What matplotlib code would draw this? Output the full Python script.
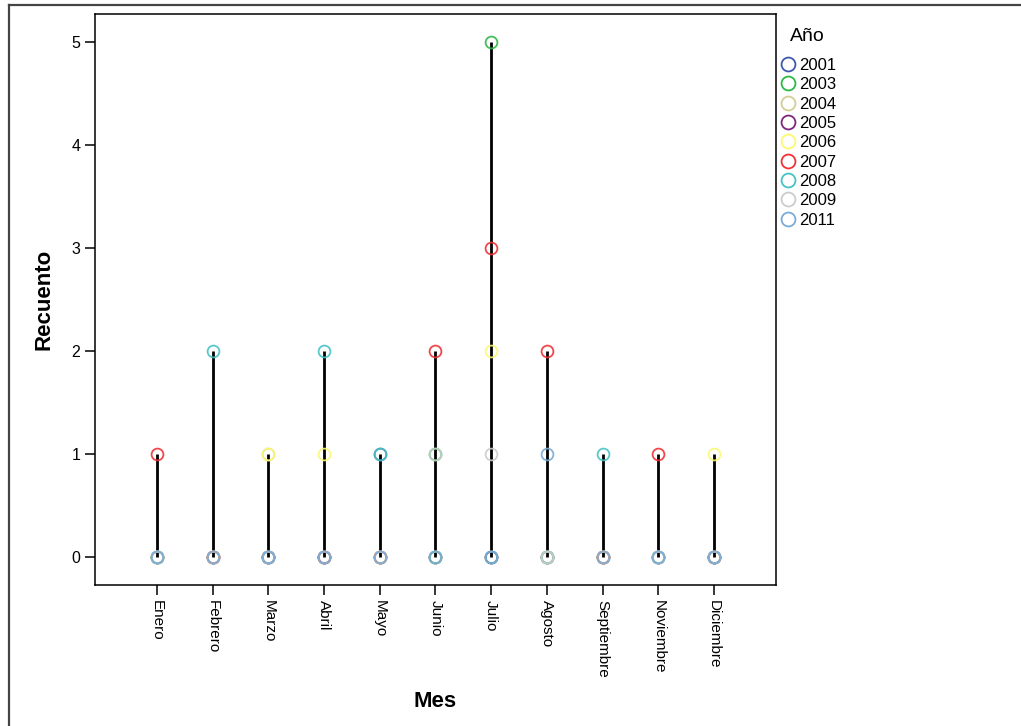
import numpy as np
import matplotlib.pyplot as plt
from matplotlib.lines import Line2D

plt.rcParams['font.family'] = ['Liberation Sans', 'DejaVu Sans']

# Datos: recuento por mes y año
meses = ["Enero", "Febrero", "Marzo", "Abril", "Mayo", "Junio", "Julio",
         "Agosto", "Septiembre", "Noviembre", "Diciembre"]
anios = ["2001", "2003", "2004", "2005", "2006", "2007", "2008", "2009", "2011"]

c2001 = [0, 0, 0, 0, 1, 0, 0, 0, 0, 0, 0]
c2003 = [0, 0, 0, 0, 0, 1, 5, 0, 0, 0, 0]
c2004 = [0, 0, 1, 0, 0, 0, 0, 0, 0, 0, 0]
c2005 = [0, 0, 0, 0, 0, 0, 0, 0, 0, 0, 0]
c2006 = [0, 0, 1, 1, 0, 0, 2, 0, 0, 0, 1]
c2007 = [1, 0, 0, 0, 0, 2, 3, 2, 0, 1, 0]
c2008 = [0, 2, 0, 2, 1, 0, 0, 0, 1, 0, 0]
c2009 = [0, 0, 0, 0, 0, 1, 1, 0, 0, 0, 0]
c2011 = [0, 0, 0, 0, 0, 0, 0, 1, 0, 0, 0]

colores = ["#3E58AC", "#2EB848", "#D3CE97", "#7C287D", "#FBF873",
           "#EF3338", "#48C2C5", "#CCCCCC", "#7AAAD5"]

recuentos = np.array([c2001, c2003, c2004, c2005, c2006, c2007, c2008, c2009, c2011])
x = np.arange(len(meses))

fig = plt.figure(figsize=(10.21, 7.26), dpi=100)
ax = fig.add_axes([0.093, 0.194, 0.667, 0.787])

# lineas de caida (min a max)
ax.vlines(x, recuentos.min(axis=0), recuentos.max(axis=0), color="black", lw=2, zorder=1)

for anio, col, vals in zip(anios, colores, recuentos):
    ax.plot(x, vals, ls="none", marker="o", ms=8.5, mfc="none", mec=col, mew=1.3,
            alpha=0.9, zorder=2)

ax.set_xlim(-1.11, 11.11)
ax.set_ylim(-0.27, 5.27)
ax.set_yticks(range(6))
ax.set_xticks(x)
ax.set_xticklabels(meses, rotation=-90, fontsize=11)
ax.tick_params(axis="y", labelsize=11.5, length=7, width=1.1)
ax.tick_params(axis="x", length=7, width=1.1)
for s in ax.spines.values():
    s.set_linewidth(1.1)

ax.set_ylabel("Recuento", fontsize=16, fontweight="bold", labelpad=12)
ax.set_xlabel("Mes", fontsize=16, fontweight="bold", labelpad=10)

handles = [Line2D([], [], ls="none", marker="o", ms=10, mfc="none", mec=c, mew=1.3)
           for c in colores]
leg = ax.legend(handles, anios, title="Año", loc="upper left",
                bbox_to_anchor=(0.757, 0.97), bbox_transform=fig.transFigure,
                frameon=False, fontsize=12, title_fontsize=14, handletextpad=0.15,
                handlelength=1.0, labelspacing=0.26, borderaxespad=0, alignment="left")
leg.get_title().set_position((10, 0))
leg._legend_box.sep = 9

# marco exterior
fig.add_artist(Line2D([0.009, 1.0], [0.993, 0.993], transform=fig.transFigure,
                      color="#444444", lw=1.6))
fig.add_artist(Line2D([0.009, 0.009], [0.0, 0.993], transform=fig.transFigure,
                      color="#444444", lw=1.6))

fig.savefig("out.png", dpi=100)
plt.close(fig)
